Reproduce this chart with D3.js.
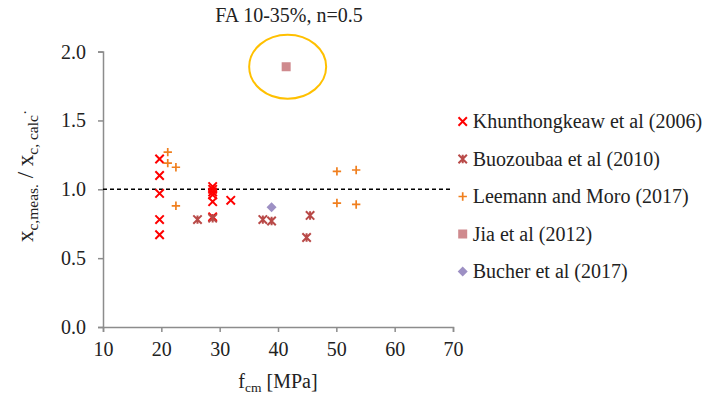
<!DOCTYPE html>
<html>
<head>
<meta charset="utf-8">
<script src="https://cdn.jsdelivr.net/npm/d3@7"></script>
<style>
  body { margin: 0; background: #fff; }
  svg text { font-family: "Liberation Serif", "Times New Roman", "DejaVu Serif", serif; }
</style>
</head>
<body>
<div id="chart"></div>
<script>
const W = 704, H = 396;
const FONT = "'Liberation Serif', 'Times New Roman', 'DejaVu Serif', serif";

// data: [fcm, ratio]
const khunthongkeaw = [[19.7, 1.22], [19.7, 1.10], [19.7, 0.97], [19.7, 0.78], [19.7, 0.67],
  [28.8, 1.02], [28.8, 1.00], [28.8, 0.98], [28.8, 0.96], [28.8, 0.91], [28.8, 0.80], [31.9, 0.92]];
const buozoubaa = [[26.2, 0.78], [28.8, 0.79], [37.4, 0.78], [38.9, 0.77], [45.5, 0.81], [44.9, 0.65]];
const leemann = [[21.1, 1.27], [21.1, 1.19], [22.5, 1.16], [22.5, 0.88],
  [50.1, 1.13], [53.4, 1.14], [50.1, 0.90], [53.4, 0.89]];
const jia = [[41.4, 1.89]];
const bucher = [[38.9, 0.87]];

const xTicks = [10, 20, 30, 40, 50, 60, 70];
const yTicks = [0, 0.5, 1.0, 1.5, 2.0];
const refLine = 1.0;

const series = [
  { name: "Khunthongkeaw et al (2006)", data: khunthongkeaw, type: "x", color: "#ff0000" },
  { name: "Buozoubaa et al (2010)", data: buozoubaa, type: "star", color: "#b94a48" },
  { name: "Leemann and Moro (2017)", data: leemann, type: "plus", color: "#f07f1e" },
  { name: "Jia et al (2012)", data: jia, type: "square", color: "#cf8a8e" },
  { name: "Bucher et al (2017)", data: bucher, type: "diamond", color: "#9d90c4" }
];

const svg = d3.select("#chart").append("svg")
  .attr("width", W).attr("height", H);

const x = d3.scaleLinear().domain([10, 70]).range([103, 453]);
const y = d3.scaleLinear().domain([0, 2]).range([327, 51.6]);

const axisColor = "#8c8c8c";

// axes
const gx = svg.append("g")
  .attr("transform", `translate(0, ${y(0)})`)
  .call(d3.axisBottom(x).tickValues(xTicks).tickSize(5).tickPadding(9).tickFormat(d3.format("d")));
const gy = svg.append("g")
  .attr("transform", `translate(${x(10)}, 0)`)
  .call(d3.axisLeft(y).tickValues(yTicks).tickSize(5).tickPadding(12).tickFormat(d3.format(".1f")));

[gx, gy].forEach(g => {
  g.attr("font-family", FONT);
  g.select(".domain").attr("stroke", axisColor).attr("stroke-width", 1.5);
  g.selectAll(".tick line").attr("stroke", axisColor).attr("stroke-width", 1.5);
  g.selectAll(".tick text")
    .attr("fill", "#222")
    .style("font-family", FONT)
    .style("font-size", "20px");
});
gx.selectAll(".tick text").attr("dy", "0.75em");

// dashed reference line
svg.append("line")
  .attr("x1", x(10)).attr("x2", x(70))
  .attr("y1", y(refLine)).attr("y2", y(refLine))
  .attr("stroke", "#000")
  .attr("stroke-width", 1.6)
  .attr("stroke-dasharray", "4,3");

// marker drawing
function drawMarker(g, type, color) {
  const s = 4.2;
  if (type === "x") {
    g.append("path").attr("d", `M${-s},${-s}L${s},${s}M${-s},${s}L${s},${-s}`)
      .attr("stroke", color).attr("stroke-width", 2).attr("fill", "none");
  } else if (type === "star") {
    g.append("path").attr("d", `M${-s},${-s}L${s},${s}M${-s},${s}L${s},${-s}M0,${-s}L0,${s}`)
      .attr("stroke", color).attr("stroke-width", 2).attr("fill", "none");
  } else if (type === "plus") {
    g.append("path").attr("d", `M${-s},0L${s},0M0,${-s}L0,${s}`)
      .attr("stroke", color).attr("stroke-width", 1.7).attr("fill", "none");
  } else if (type === "square") {
    g.append("rect").attr("x", -4.5).attr("y", -4.5).attr("width", 9).attr("height", 9)
      .attr("fill", color);
  } else if (type === "diamond") {
    g.append("path").attr("d", "M0,-5L5,0L0,5L-5,0Z").attr("fill", color);
  }
}

series.forEach(sr => {
  svg.append("g").selectAll("g")
    .data(sr.data)
    .join("g")
    .attr("transform", d => `translate(${x(d[0])}, ${y(d[1])})`)
    .each(function () { drawMarker(d3.select(this), sr.type, sr.color); });
});

// highlight ellipse around Jia point
svg.append("ellipse")
  .attr("cx", x(jia[0][0]) + 1.5)
  .attr("cy", y(jia[0][1]))
  .attr("rx", 38.5).attr("ry", 32)
  .attr("fill", "none")
  .attr("stroke", "#ffc000")
  .attr("stroke-width", 2);

// title
svg.append("text")
  .attr("x", 289).attr("y", 22)
  .attr("text-anchor", "middle")
  .style("font-size", "20px")
  .attr("fill", "#222")
  .text("FA 10-35%, n=0.5");

// x axis label
const xl = svg.append("text")
  .attr("x", 278).attr("y", 388)
  .attr("text-anchor", "middle")
  .attr("fill", "#222")
  .style("font-size", "20px");
xl.append("tspan").text("f");
xl.append("tspan").attr("dy", 4).style("font-size", "13.5px").text("cm");
xl.append("tspan").attr("dy", -4).text(" [MPa]");

// y axis label
const yl = svg.append("text")
  .attr("transform", "translate(33, 176) rotate(-90)")
  .attr("text-anchor", "middle")
  .attr("fill", "#222")
  .style("font-size", "23px");
yl.append("tspan").text("x");
yl.append("tspan").attr("dy", 5).style("font-size", "15.5px").text("c,meas.");
yl.append("tspan").attr("dy", -5).text(" / x");
yl.append("tspan").attr("dy", 5).style("font-size", "15.5px").text("c, calc");
yl.append("tspan").attr("dy", -8).style("font-size", "15.5px").text("·");

// legend
const legend = svg.append("g");
const legY = d3.scaleLinear().domain([0, 4]).range([121.5, 271.5]);
series.forEach((sr, i) => {
  const g = legend.append("g").attr("transform", `translate(462.7, ${legY(i)})`);
  drawMarker(g, sr.type, sr.color);
  g.append("text")
    .attr("x", 10).attr("y", 6.5)
    .attr("fill", "#222")
    .style("font-size", "20px")
    .text(sr.name);
});
</script>
</body>
</html>
